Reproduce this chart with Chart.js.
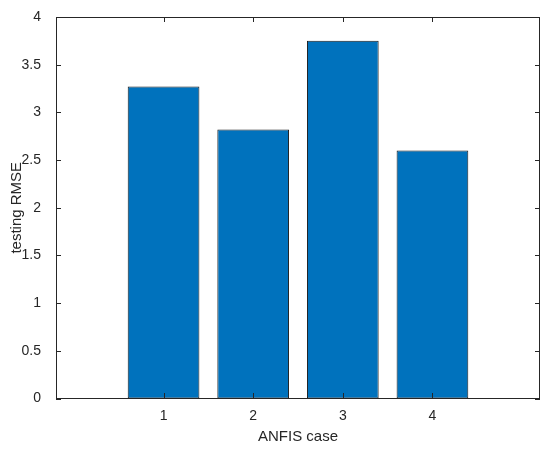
<!DOCTYPE html>
<html>
<head>
<meta charset="utf-8">
<script src="https://cdn.jsdelivr.net/npm/chart.js@4.4.0/dist/chart.umd.min.js"></script>
<style>
  html, body { margin: 0; padding: 0; background: #fff; overflow: hidden; }
</style>
</head>
<body>
<canvas id="myChart" width="550" height="450"></canvas>
<script>
// data
var cases = [1, 2, 3, 4];
var rmse = [3.27, 2.82, 3.75, 2.6];
var yTicks = [0, 0.5, 1, 1.5, 2, 2.5, 3, 3.5, 4];

var axisColor = '#262626';
var fontFamily = '"Liberation Sans", Arial, sans-serif';

// MATLAB style: box around the axes, ticks pointing inside, mirrored on top/right
var matlabBox = {
  id: 'matlabBox',
  afterDraw: function (chart) {
    var ctx = chart.ctx, a = chart.chartArea;
    var xs = chart.scales.x, ys = chart.scales.y;
    var len = 5;
    var l = Math.round(a.left), r = Math.round(a.right) - 1;
    var t = Math.round(a.top), b = Math.round(a.bottom) - 1;
    ctx.save();
    ctx.fillStyle = axisColor;
    ctx.fillRect(l, t, r - l + 1, 1);
    ctx.fillRect(l, b, r - l + 1, 1);
    ctx.fillRect(l, t, 1, b - t + 1);
    ctx.fillRect(r, t, 1, b - t + 1);
    xs.ticks.forEach(function (tk) {
      var px = Math.round(xs.getPixelForValue(tk.value));
      ctx.fillRect(px, b - len, 1, len);
      ctx.fillRect(px, t, 1, len);
    });
    ys.ticks.forEach(function (tk) {
      var py = Math.round(ys.getPixelForValue(tk.value));
      ctx.fillRect(l, py, len, 1);
      ctx.fillRect(r - len + 1, py, len, 1);
    });
    ctx.restore();
  }
};

var ctx = document.getElementById('myChart').getContext('2d');
new Chart(ctx, {
  type: 'bar',
  data: {
    datasets: [{
      data: cases.map(function (c, i) { return { x: c, y: rmse[i] }; }),
      backgroundColor: '#0072BD',
      borderColor: '#1a1a1a',
      borderWidth: 1,
      borderSkipped: false,
      barPercentage: 0.8,
      categoryPercentage: 1.0
    }]
  },
  plugins: [matlabBox],
  options: {
    responsive: false,
    animation: false,
    layout: { padding: { top: 17, right: 10, left: 0, bottom: 0 } },
    plugins: { legend: { display: false }, tooltip: { enabled: false } },
    scales: {
      x: {
        type: 'linear',
        offset: false,
        min: -0.2,
        max: 5.2,
        afterBuildTicks: function (s) { s.ticks = cases.map(function (v) { return { value: v }; }); },
        afterFit: function (s) { s.height = 51.5; },
        grid: { display: false, offset: false },
        border: { display: false },
        ticks: { color: axisColor, font: { family: fontFamily, size: 14 }, padding: 1 },
        title: {
          display: true, text: 'ANFIS case', color: axisColor,
          font: { family: fontFamily, size: 15 }, padding: { top: 7 }
        }
      },
      y: {
        min: 0,
        max: 4,
        afterBuildTicks: function (s) { s.ticks = yTicks.map(function (v) { return { value: v }; }); },
        afterFit: function (s) { s.width = 56; },
        grid: { display: false },
        border: { display: false },
        ticks: {
          color: axisColor, font: { family: fontFamily, size: 14 }, padding: 7,
          callback: function (v) { return String(v); }
        },
        title: {
          display: true, text: 'testing RMSE', color: axisColor,
          font: { family: fontFamily, size: 15 }, padding: { top: 8, bottom: 2 }
        }
      }
    }
  }
});
</script>
</body>
</html>
